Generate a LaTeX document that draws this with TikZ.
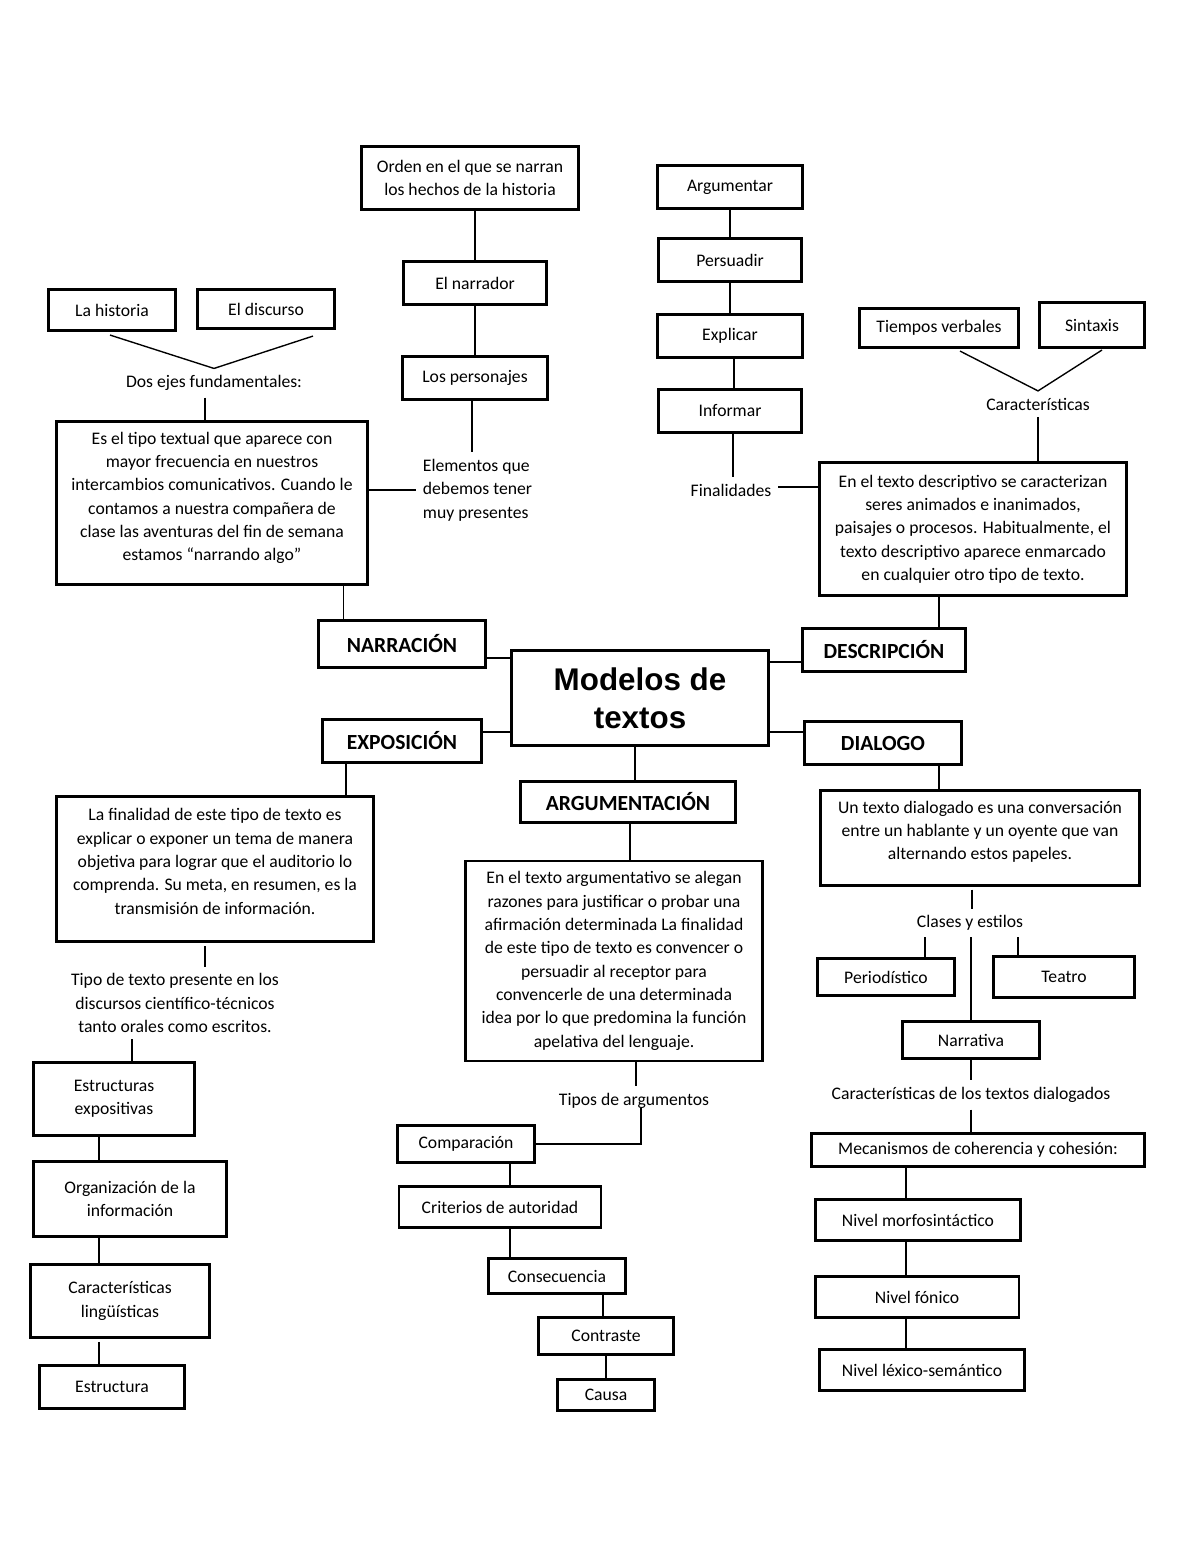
\documentclass[tikz,border=0pt]{standalone}
\usepackage{fontspec}
\setmainfont{Carlito}
\newfontfamily\arialfont{Liberation Sans}
\usetikzlibrary{calc}

\tikzset{
  box/.style={draw, line width=1.5pt, align=center, inner sep=2pt},
  heading/.style={box, font=\bfseries\fontsize{11}{13}\selectfont},
  note/.style={align=center},
  link/.style={line width=0.7pt}
}

\begin{document}
\begin{tikzpicture}[x=0.51pt, y=-0.51pt, font=\fontsize{9}{11.9}\selectfont]
  % page frame, same size as the sheet
  \useasboundingbox (0,0) rectangle (1200,1553);

  % centre of the map and the five text types
  \node[box, font=\arialfont\bfseries\fontsize{16}{19.4}\selectfont, minimum width=131pt, minimum height=48pt] (modelos) at (640,698) {Modelos de\\textos};
  \node[heading, minimum width=85pt, minimum height=24pt] (narracion) at (402,644) {NARRACIÓN};
  \node[heading, minimum width=81pt, minimum height=22pt] (exposicion) at (402,741) {EXPOSICIÓN};
  \node[heading, minimum width=83pt, minimum height=22pt] (descripcion) at (884,650) {DESCRIPCIÓN};
  \node[heading, minimum width=80pt, minimum height=22pt] (dialogo) at (883,743) {DIALOGO};
  \node[heading, minimum width=110pt, minimum height=21pt] (argumentacion) at (628,802) {ARGUMENTACIÓN};

  % narration branch
  \node[box, minimum width=111pt, minimum height=32pt] (orden) at (470,178) {Orden en el que se narran\\los hechos de la historia};
  \node[box, minimum width=73pt, minimum height=22pt] (narrador) at (475,283) {El narrador};
  \node[box, minimum width=74pt, minimum height=22pt] (personajes) at (475,378) {Los personajes};
  \node[note, align=left, anchor=west] (elementos) at (416,490) {Elementos que\\debemos tener\\muy presentes};
  \node[box, minimum width=65pt, minimum height=21pt] (historia) at (112,310) {La historia};
  \node[box, minimum width=70pt, minimum height=20pt] (discurso) at (266,309) {El discurso};
  \node[note] (dosejes) at (214,383) {Dos ejes fundamentales:};
  \node[box, minimum width=159pt, minimum height=83pt] (narrtexto) at (212,503) {Es el tipo textual que aparece con\\mayor frecuencia en nuestros\\intercambios comunicativos. Cuando le\\contamos a nuestra compañera de\\clase las aventuras del fin de semana\\estamos “narrando algo”\\[-5pt]\mbox{}};

  % description branch
  \node[box, minimum width=74pt, minimum height=22pt] (argumentar) at (730,187) {Argumentar};
  \node[box, minimum width=73pt, minimum height=22pt] (persuadir) at (730,260) {Persuadir};
  \node[box, minimum width=74pt, minimum height=22pt] (explicar) at (730,336) {Explicar};
  \node[box, minimum width=73pt, minimum height=22pt] (informar) at (730,411) {Informar};
  \node[note] (finalidades) at (731,490) {Finalidades};
  \node[box, minimum width=81pt, minimum height=20pt] (tiempos) at (939,328) {Tiempos verbales};
  \node[box, minimum width=54pt, minimum height=23pt] (sintaxis) at (1092,325) {Sintaxis};
  \node[note] (caracteristicas) at (1038,404) {Características};
  \node[box, minimum width=157pt, minimum height=68pt] (desctexto) at (973,529) {En el texto descriptivo se caracterizan\\seres animados e inanimados,\\paisajes o procesos. Habitualmente, el\\texto descriptivo aparece enmarcado\\en cualquier otro tipo de texto.};

  % exposition branch
  \node[box, minimum width=162pt, minimum height=74pt] (expotexto) at (215,869) {La finalidad de este tipo de texto es\\explicar o exponer un tema de manera\\objetiva para lograr que el auditorio lo\\comprenda. Su meta, en resumen, es la\\transmisión de información.\\[-4pt]\mbox{}};
  \node[note] (tipotexto) at (175,1003) {Tipo de texto presente en los\\discursos científico-técnicos\\tanto orales como escritos.};
  \node[box, minimum width=82pt, minimum height=37pt] (estructuras) at (114,1099) {Estructuras\\expositivas};
  \node[box, minimum width=98pt, minimum height=38pt] (organizacion) at (130,1199) {Organización de la\\información};
  \node[box, minimum width=91pt, minimum height=37pt] (rasgos) at (120,1301) {Características\\lingüísticas};
  \node[box, minimum width=74pt, minimum height=22pt] (estructura) at (112,1387) {Estructura};

  % argumentation branch
  \node[box, minimum width=151pt, minimum height=102pt] (argutexto) at (614,961) {En el texto argumentativo se alegan\\razones para justificar o probar una\\afirmación determinada La finalidad\\de este tipo de texto es convencer o\\persuadir al receptor para\\convencerle de una determinada\\idea por lo que predomina la función\\apelativa del lenguaje.};
  \node[note] (tiposarg) at (634,1101) {Tipos de argumentos};
  \node[box, minimum width=70pt, minimum height=19pt] (comparacion) at (466,1144) {Comparación};
  \node[box, minimum width=103pt, minimum height=21pt] (criterios) at (500,1207) {Criterios de autoridad};
  \node[box, minimum width=70pt, minimum height=18pt] (consecuencia) at (557,1276) {Consecuencia};
  \node[box, minimum width=69pt, minimum height=19pt] (contraste) at (606,1336) {Contraste};
  \node[box, minimum width=49pt, minimum height=16pt] (causa) at (606,1395) {Causa};

  % dialogue branch
  \node[box, minimum width=163pt, minimum height=48pt] (dialtexto) at (980,838) {Un texto dialogado es una conversación\\entre un hablante y un oyente que van\\alternando estos papeles.\\[-4pt]\mbox{}};
  \node[note] (clases) at (970,923) {Clases y estilos};
  \node[box, minimum width=70pt, minimum height=19pt] (periodistico) at (886,977) {Periodístico};
  \node[box, minimum width=72pt, minimum height=21pt] (teatro) at (1064,977) {Teatro};
  \node[box, minimum width=70pt, minimum height=19pt] (narrativa) at (971,1040) {Narrativa};
  \node[note] (rasgosdial) at (971,1095) {Características de los textos dialogados};
  \node[box, minimum width=170pt, minimum height=17pt] (mecanismos) at (978,1150) {Mecanismos de coherencia y cohesión:};
  \node[box, minimum width=105pt, minimum height=21pt] (morfo) at (918,1220) {Nivel morfosintáctico};
  \node[box, minimum width=104pt, minimum height=21pt] (fonico) at (917,1297) {Nivel fónico};
  \node[box, minimum width=105pt, minimum height=21pt] (lexico) at (922,1370) {Nivel léxico-semántico};

  % links from the centre
  \draw[link] ($(narracion.east)+(0,14)$) coordinate (c) -- (c -| modelos.west);
  \draw[link] ($(exposicion.east)+(0,-9)$) coordinate (c) -- (c -| modelos.west);
  \draw[link] ($(descripcion.west)+(0,12)$) coordinate (c) -- (c -| modelos.east);
  \draw[link] ($(dialogo.west)+(0,-11)$) coordinate (c) -- (c -| modelos.east);
  \draw[link] ($(modelos.south)+(-5,0)$) coordinate (c) -- (c |- argumentacion.north);

  % narration links
  \draw[link] (narrador.north |- orden.south) -- (narrador.north);
  \draw[link] (narrador.south) -- (personajes.north);
  \draw[link] ($(personajes.south)+(-3,0)$) coordinate (c) -- (c |- elementos.north);
  \draw[link] (narrtexto.east |- elementos.west) -- (elementos.west);
  \draw[link] ($(historia.south)+(-2,3)$) -- (dosejes.north) -- ($(discurso.south)+(47,6)$);
  \draw[link] ($(dosejes.south)+(-9,0)$) coordinate (c) -- (c |- narrtexto.north);
  \draw[link] ($(narrtexto.south east)+(-26,0)$) coordinate (c) -- (c |- narracion.north);

  % description links
  \draw[link] (argumentar) -- (persuadir);
  \draw[link] (persuadir) -- (explicar);
  \draw[link] ($(explicar.south)+(4,0)$) coordinate (c) -- (c |- informar.north);
  \draw[link] ($(informar.south)+(3,0)$) coordinate (c) -- (c |- finalidades.north);
  \draw[link] ($(finalidades.east)+(0,-3)$) coordinate (c) -- (c -| desctexto.west);
  \draw[link] ($(tiempos.south)+(21,2)$) -- (caracteristicas.north) -- ($(sintaxis.south)+(10,1)$);
  \draw[link] (caracteristicas.south) -- (caracteristicas.south |- desctexto.north);
  \draw[link] ($(desctexto.south)+(-34,0)$) coordinate (c) -- (c |- descripcion.north);

  % exposition links
  \draw[link] ($(exposicion.south)+(-56,0)$) coordinate (c) -- (c |- expotexto.north);
  \draw[link] ($(expotexto.south)+(-10,3)$) coordinate (c) -- (c |- tipotexto.north);
  \draw[link] ($(tipotexto.south)+(-43,0)$) coordinate (c) -- (c |- estructuras.north);
  \draw[link] ($(estructuras.south)+(-15,0)$) coordinate (c) -- (c |- organizacion.north);
  \draw[link] ($(organizacion.south)+(-31,0)$) coordinate (c) -- (c |- rasgos.north);
  \draw[link] ($(rasgos.south)+(-21,3)$) coordinate (c) -- (c |- estructura.north);

  % argumentation links
  \draw[link] ($(argumentacion.south)+(2,0)$) coordinate (c) -- (c |- argutexto.north);
  \draw[link] ($(argutexto.south)+(22,0)$) coordinate (c) -- (c |- tiposarg.north);
  \draw[link] ($(tiposarg.center)+(7,7)$) |- (comparacion.east);
  \draw[link] ($(comparacion.south)+(44,-3)$) coordinate (c) -- (c |- criterios.north);
  \draw[link] ($(criterios.south)+(10,0)$) coordinate (c) -- (c |- consecuencia.north);
  \draw[link] ($(consecuencia.south)+(46,0)$) coordinate (c) -- (c |- contraste.north);
  \draw[link] (contraste) -- (causa);

  % dialogue links
  \draw[link] ($(dialogo.south)+(56,0)$) coordinate (c) -- (c |- dialtexto.north);
  \draw[link] ($(dialtexto.south)+(-8,3)$) coordinate (c) -- (c |- clases.north);
  \draw[link] ($(periodistico.north)+(39,0)$) coordinate (c) -- (c |- clases.south);
  \draw[link] ($(teatro.north)+(-46,0)$) coordinate (c) -- (c |- clases.south);
  \draw[link] (narrativa.north |- clases.south) -- (narrativa.north);
  \draw[link] (narrativa.south) -- (narrativa.south |- rasgosdial.north);
  \draw[link] (rasgosdial.south) -- (rasgosdial.south |- mecanismos.north);
  \draw[link] ($(morfo.north)+(-12,0)$) coordinate (c) -- (c |- mecanismos.south);
  \draw[link] ($(fonico.north)+(-11,0)$) coordinate (c) -- (c |- morfo.south);
  \draw[link] ($(lexico.north)+(-16,0)$) coordinate (c) -- (c |- fonico.south);
\end{tikzpicture}
\end{document}
